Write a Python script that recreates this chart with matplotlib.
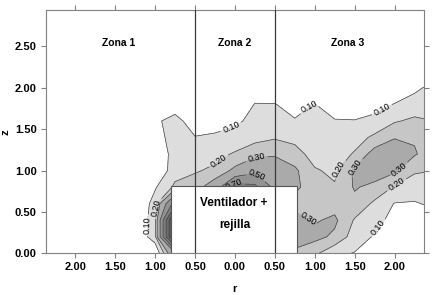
import numpy as np
import matplotlib
matplotlib.use("Agg")
import matplotlib.pyplot as plt
from matplotlib.patches import Rectangle
from matplotlib.ticker import FuncFormatter

plt.rcParams['font.family'] = ['Liberation Sans', 'DejaVu Sans']

# ---- data: grid nodes (r horizontal, z vertical) ----
r_nodes = [-2.50, -2.25, -2.00, -1.75, -1.50, -1.25, -1.00, -0.75, -0.50, -0.25,
           0.00, 0.25, 0.50, 0.75, 1.00, 1.25, 1.50, 1.75, 2.00, 2.25, 2.50]
z_nodes = [0.0, 0.2, 0.4, 0.6, 0.8, 1.0, 1.2, 1.4, 1.6, 1.8, 2.0, 2.2, 2.4, 2.6, 2.8, 3.0]

# values along z for each r column (z = 0.0, 0.2, ... 3.0)
col_m250 = [0, 0, 0, 0, 0, 0, 0, 0, 0, 0, 0, 0, 0, 0, 0, 0]
col_m225 = [0, 0, 0, 0, 0, 0, 0, 0, 0, 0, 0, 0, 0, 0, 0, 0]
col_m200 = [0, 0, 0, 0, 0, 0, 0, 0, 0, 0, 0, 0, 0, 0, 0, 0]
col_m175 = [0, 0, 0, 0, 0, 0, 0, 0, 0, 0, 0, 0, 0, 0, 0, 0]
col_m150 = [0, 0, 0, 0, 0, 0, 0, 0, 0, 0, 0, 0, 0, 0, 0, 0]
col_m125 = [0, 0, 0, 0, 0, 0, 0, 0, 0, 0, 0, 0, 0, 0, 0, 0]
col_m100 = [0.00, 0.16, 0.16, 0.14, 0.09, 0.00, 0.00, 0.06, 0.08, 0.00, 0, 0, 0, 0, 0, 0]
col_m075 = [0.45, 1.50, 1.50, 0.80, 0.22, 0.16, 0.15, 0.14, 0.14, 0.04, 0, 0, 0, 0, 0, 0]
col_m050 = [0.90, 1.40, 1.20, 0.80, 0.25, 0.19, 0.15, 0.105, 0.04, 0.00, 0, 0, 0, 0, 0, 0]
col_m025 = [0.90, 1.00, 1.00, 0.80, 0.38, 0.22, 0.17, 0.115, 0.06, 0.00, 0, 0, 0, 0, 0, 0]
col_p000 = [0.90, 1.00, 1.00, 1.00, 0.80, 0.33, 0.21, 0.14, 0.08, 0.00, 0, 0, 0, 0, 0, 0]
col_p025 = [0.90, 1.00, 1.00, 1.00, 0.75, 0.45, 0.26, 0.17, 0.13, 0.105, 0.03, 0, 0, 0, 0, 0]
col_p050 = [0.70, 0.80, 0.80, 0.70, 0.45, 0.36, 0.29, 0.19, 0.14, 0.105, 0.02, 0, 0, 0, 0, 0]
col_p075 = [0.25, 0.42, 0.35, 0.25, 0.33, 0.32, 0.24, 0.17, 0.11, 0.05, 0.00, 0, 0, 0, 0, 0]
col_p100 = [0.22, 0.33, 0.29, 0.24, 0.23, 0.21, 0.16, 0.14, 0.12, 0.105, 0.03, 0, 0, 0, 0, 0]
col_p125 = [0.12, 0.28, 0.32, 0.26, 0.21, 0.18, 0.15, 0.13, 0.11, 0.02, 0.00, 0, 0, 0, 0, 0]
col_p150 = [0.095, 0.15, 0.19, 0.27, 0.31, 0.32, 0.21, 0.16, 0.105, 0.03, 0.00, 0, 0, 0, 0, 0]
col_p175 = [0.03, 0.09, 0.13, 0.18, 0.27, 0.36, 0.35, 0.22, 0.13, 0.06, 0.00, 0, 0, 0, 0, 0]
col_p200 = [0.00, 0.03, 0.07, 0.095, 0.19, 0.32, 0.36, 0.295, 0.19, 0.105, 0.02, 0, 0, 0, 0, 0]
col_p225 = [0.00, 0.02, 0.05, 0.09, 0.16, 0.21, 0.31, 0.29, 0.22, 0.14, 0.08, 0, 0, 0, 0, 0]
col_p250 = [0.00, 0.02, 0.06, 0.12, 0.17, 0.20, 0.24, 0.24, 0.20, 0.13, 0.13, 0.05, 0, 0, 0, 0]

levels = [0.1, 0.2, 0.3, 0.5, 0.7, 0.9, 1.1, 1.3, 1.5]
zone_names = ["Zona 1", "Zona 2", "Zona 3"]
x_ticks = [-2.0, -1.5, -1.0, -0.5, 0.0, 0.5, 1.0, 1.5, 2.0]
y_ticks = [0.0, 0.5, 1.0, 1.5, 2.0, 2.5]
zone_bounds = [-0.5, 0.5]

columns = [col_m250, col_m225, col_m200, col_m175, col_m150, col_m125, col_m100,
           col_m075, col_m050, col_m025, col_p000, col_p025, col_p050, col_p075,
           col_p100, col_p125, col_p150, col_p175, col_p200, col_p225, col_p250]
V = np.column_stack([np.array(c, dtype=float) for c in columns])
R, Z = np.meshgrid(np.array(r_nodes), np.array(z_nodes))

fig = plt.figure(figsize=(4.35, 2.95), dpi=100)
ax = fig.add_axes([0.105, 0.141, 0.870, 0.825])

fill_levels = [0.0] + levels + [3.0]
fill_colors = ['#ffffff', '#dddddd', '#c6c6c6', '#aaaaaa', '#939393', '#7f7f7f',
               '#6c6c6c', '#5c5c5c', '#4e4e4e', '#424242']
ax.contourf(R, Z, V, levels=fill_levels, colors=fill_colors, zorder=1)

label_pos = {
    0.1: [(-0.04, 1.50), (0.91, 1.80), (1.85, 1.72), (1.81, 0.30), (-1.08, 0.34)],
    0.2: [(-0.19, 1.10), (1.26, 1.05), (2.02, 0.84), (-0.99, 0.55)],
    0.3: [(0.27, 1.14), (1.50, 1.05), (2.02, 1.05), (0.92, 0.42)],
    0.5: [(0.27, 0.95)],
    0.7: [(-0.02, 0.84)],
}
for lev in levels:
    cs = ax.contour(R, Z, V, levels=[lev], colors='#444444', linewidths=0.5, zorder=2)
    if lev in label_pos:
        cs.clabel(manual=label_pos[lev], fmt='%.2f', fontsize=6.5,
                  inline=True, inline_spacing=2, colors='black')

# fan box
ax.add_patch(Rectangle((-0.80, 0.0), 1.58, 0.82, facecolor='white',
                       edgecolor='#555555', linewidth=0.8, zorder=5))
for xb in zone_bounds:
    ax.axvline(xb, color='#3a3a3a', linewidth=0.9, zorder=6)
ax.text(-0.02, 0.61, "Ventilador +", ha='center', va='center', fontsize=8.5,
        fontweight='bold', zorder=7)
ax.text(0.0, 0.34, "rejilla", ha='center', va='center', fontsize=8.5,
        fontweight='bold', zorder=7)

for name, xz in zip(zone_names, [-1.46, 0.0, 1.41]):
    ax.text(xz, 2.54, name, ha='center', va='center', fontsize=7.5,
            fontweight='bold', zorder=7)

ax.set_xlim(-2.37, 2.37)
ax.set_ylim(0, 2.94)
ax.set_xticks(x_ticks)
ax.set_yticks(y_ticks)
ax.xaxis.set_major_formatter(FuncFormatter(lambda v, p: "%.2f" % abs(v)))
ax.yaxis.set_major_formatter(FuncFormatter(lambda v, p: "%.2f" % v))
ax.tick_params(direction='out', length=3.5, width=0.8, color='#808080',
               top=True, right=True, labelsize=8, pad=3)
for lab in ax.get_xticklabels() + ax.get_yticklabels():
    lab.set_fontweight('bold')
for sp in ax.spines.values():
    sp.set_color('#808080')
    sp.set_linewidth(0.8)
ax.set_xlabel('r', fontsize=8, fontweight='bold')
ax.xaxis.set_label_coords(0.5, -0.125)
ax.set_ylabel('z', fontsize=8, fontweight='bold')
ax.yaxis.set_label_coords(-0.092, 0.5)

fig.savefig('out.png', dpi=100)
